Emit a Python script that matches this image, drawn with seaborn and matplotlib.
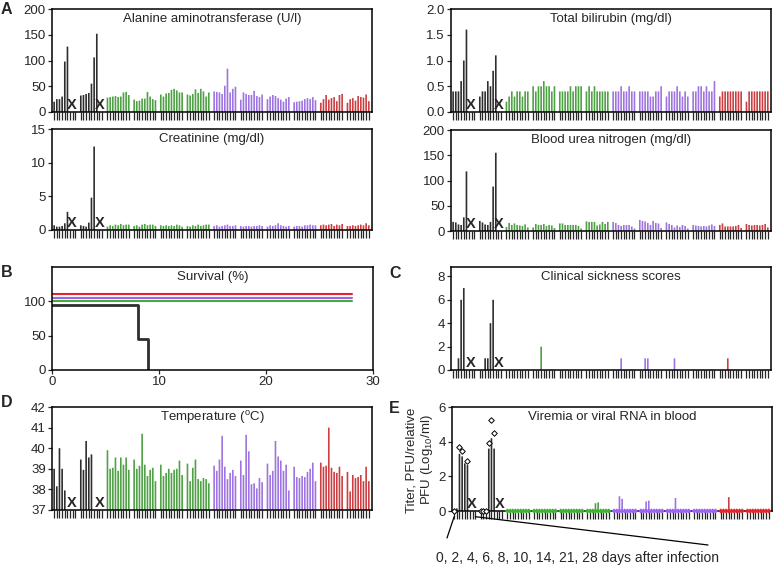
import matplotlib
matplotlib.use('Agg')
import matplotlib.pyplot as plt
import matplotlib.transforms as mtransforms
import numpy as np
import pandas as pd
import seaborn as sns

W, H = 778, 566
FS = 9.5

# animals: 2 black, 4 green, 4 purple, 2 red; 9 sampling days each
GROUPS = ['Black'] * 2 + ['Green'] * 4 + ['Purple'] * 4 + ['Red'] * 2
PALETTE = {'Black': '#2e2e2e', 'Green': '#42b035', 'Purple': '#9c62f2', 'Red': '#e3262b'}
N_DAYS = 9
X_SLOTS = [6.7, 17.2]

alt = [
    [20, 25, 25, 30, 98, 127],
    [32, 33, 35, 37, 55, 106, 152],
    [28, 29, 30, 31, 29, 30, 38, 39, 33],
    [24, 21, 22, 26, 26, 39, 30, 25, 23],
    [34, 30, 36, 37, 43, 45, 42, 38, 38],
    [34, 32, 35, 44, 37, 45, 40, 30, 38],
    [40, 39, 38, 35, 51, 84, 38, 45, 49],
    [24, 38, 35, 33, 33, 41, 31, 29, 34],
    [25, 30, 33, 31, 27, 24, 20, 26, 29],
    [19, 20, 21, 22, 25, 27, 25, 29, 23],
    [18, 25, 33, 24, 27, 29, 21, 33, 35],
    [18, 25, 27, 22, 31, 29, 28, 34, 21],
]
creatinine = [
    [0.7, 0.5, 0.5, 0.6, 1.0, 2.7],
    [0.7, 0.6, 0.5, 1.1, 4.8, 12.4],
    [0.5, 0.7, 0.6, 0.8, 0.7, 0.9, 0.7, 0.8, 0.8],
    [0.6, 0.7, 0.5, 0.8, 0.9, 0.7, 0.8, 0.8, 0.6],
    [0.7, 0.6, 0.7, 0.6, 0.7, 0.6, 0.8, 0.7, 0.5],
    [0.6, 0.5, 0.7, 0.6, 0.8, 0.6, 0.7, 0.8, 0.8],
    [0.6, 0.7, 0.5, 0.6, 0.7, 0.8, 0.6, 0.6, 0.7],
    [0.6, 0.5, 0.6, 0.6, 0.5, 0.6, 0.6, 0.7, 0.6],
    [0.5, 0.7, 0.6, 0.7, 1.0, 0.7, 0.6, 0.5, 0.6],
    [0.5, 0.6, 0.6, 0.5, 0.7, 0.7, 0.8, 0.7, 0.7],
    [0.7, 0.8, 0.7, 0.8, 0.9, 0.6, 0.8, 0.7, 0.9],
    [0.6, 0.6, 0.7, 0.6, 0.7, 0.8, 0.7, 1.0, 0.7],
]
bilirubin = [
    [0.4, 0.4, 0.4, 0.6, 1.0, 1.6],
    [0.3, 0.4, 0.4, 0.6, 0.5, 0.8, 1.1],
    [0.2, 0.3, 0.4, 0.3, 0.4, 0.4, 0.3, 0.4, 0.4],
    [0.5, 0.4, 0.5, 0.5, 0.6, 0.5, 0.5, 0.4, 0.5],
    [0.4, 0.4, 0.4, 0.4, 0.5, 0.4, 0.5, 0.5, 0.5],
    [0.4, 0.5, 0.4, 0.5, 0.4, 0.4, 0.4, 0.4, 0.4],
    [0.4, 0.4, 0.4, 0.5, 0.4, 0.4, 0.5, 0.4, 0.4],
    [0.4, 0.4, 0.4, 0.4, 0.3, 0.3, 0.4, 0.4, 0.5],
    [0.3, 0.4, 0.4, 0.4, 0.5, 0.4, 0.3, 0.4, 0.3],
    [0.4, 0.4, 0.5, 0.5, 0.4, 0.5, 0.4, 0.4, 0.6],
    [0.3, 0.4, 0.4, 0.4, 0.4, 0.4, 0.4, 0.4, 0.4],
    [0.2, 0.4, 0.4, 0.4, 0.4, 0.4, 0.4, 0.4, 0.4],
]
bun = [
    [18, 17, 13, 12, 27, 118],
    [20, 17, 13, 12, 18, 88, 155],
    [8, 16, 12, 15, 12, 11, 10, 13, 7],
    [7, 14, 12, 12, 14, 10, 12, 11, 6],
    [15, 15, 12, 12, 12, 12, 12, 10, 5],
    [19, 18, 18, 18, 11, 13, 18, 14, 18],
    [18, 16, 12, 10, 12, 12, 12, 9, 5],
    [22, 20, 19, 16, 12, 20, 16, 15, 6],
    [17, 14, 12, 7, 11, 8, 12, 10, 5],
    [12, 11, 10, 9, 10, 9, 11, 13, 10],
    [12, 15, 9, 9, 9, 9, 10, 12, 6],
    [14, 12, 11, 12, 12, 11, 12, 14, 7],
]
sickness = [
    [0, 0, 1, 6, 7, 0],
    [0, 0, 1, 1, 4, 6],
    [0, 0, 0, 0, 0, 0, 0, 0, 0],
    [0, 0, 0, 2, 0, 0, 0, 0, 0],
    [0, 0, 0, 0, 0, 0, 0, 0, 0],
    [0, 0, 0, 0, 0, 0, 0, 0, 0],
    [0, 0, 0, 1, 0, 0, 0, 0, 0],
    [0, 0, 1, 1, 0, 0, 0, 0, 0],
    [0, 0, 0, 1, 0, 0, 0, 0, 0],
    [0, 0, 0, 0, 0, 0, 0, 0, 0],
    [0, 0, 0, 1, 0, 0, 0, 0, 0],
    [0, 0, 0, 0, 0, 0, 0, 0, 0],
]
temperature = [
    [39.0, 38.15, 40.0, 39.0, 37.95],
    [39.45, 38.95, 40.35, 39.55, 39.7],
    [39.9, 39.0, 39.05, 39.55, 38.9, 39.55, 39.2, 39.55, 38.95],
    [39.45, 39.0, 39.15, 40.7, 39.2, 38.65, 38.95, 39.05, 38.4],
    [39.2, 38.65, 38.8, 39.0, 38.8, 38.95, 39.0, 39.4, 38.7],
    [39.25, 38.4, 39.05, 39.45, 38.5, 38.4, 38.55, 38.5, 38.3],
    [39.15, 38.9, 39.45, 40.6, 39.1, 38.5, 38.8, 38.95, 38.65],
    [39.4, 38.7, 40.65, 39.85, 38.25, 38.3, 38.05, 38.55, 38.35],
    [39.25, 38.7, 38.9, 40.35, 39.6, 39.4, 38.9, 39.2, 37.95],
    [39.1, 38.6, 38.55, 38.65, 38.6, 38.85, 39.0, 39.3, 38.4],
    [39.3, 39.1, 39.15, 41.0, 39.05, 38.85, 38.8, 39.1, 38.65],
    [38.85, 37.9, 38.7, 38.55, 38.6, 38.7, 38.4, 39.1, 38.4],
]
viremia = [
    [0.05, 0.15, 3.3, 3.15, 2.75, 2.65],
    [0.0, 0.0, 0.0, 3.6, 4.2, 3.6],
    [0, 0, 0, 0, 0, 0, 0, 0, 0],
    [0, 0, 0, 0, 0, 0, 0, 0, 0],
    [0, 0, 0, 0, 0, 0, 0, 0, 0],
    [0, 0, 0, 0.45, 0.5, 0, 0, 0, 0],
    [0, 0, 0.85, 0.7, 0, 0, 0, 0, 0],
    [0, 0, 0.55, 0.6, 0, 0, 0, 0, 0],
    [0, 0, 0, 0.75, 0, 0, 0, 0, 0],
    [0, 0, 0, 0, 0, 0, 0, 0, 0],
    [0, 0, 0, 0.8, 0, 0, 0, 0, 0],
    [0, 0, 0, 0, 0, 0, 0, 0, 0],
]
# individual titers shown as open diamonds (black animals)
viremia_points = [
    [0.0, np.nan, 3.7, 3.45, np.nan, 2.9],
    [0.0, 0.0, 0.0, 3.95, 5.25, 4.5],
]

surv_days = {'Black': [0, 8, 9], 'Green': [0, 28], 'Purple': [0, 28], 'Red': [0, 28]}
surv_pct = {'Black': [95, 45, 0], 'Green': [100, 100], 'Purple': [105, 105], 'Red': [110, 110]}

TICK_POS = [i * 10 + j for i in range(len(GROUPS)) for j in range(N_DAYS)]


def build_frame(values):
    rows = []
    for i, (group, vals) in enumerate(zip(GROUPS, values)):
        for j, v in enumerate(vals):
            rows.append({'pos': i * 10 + j, 'value': v, 'group': group})
    return pd.DataFrame(rows)


def add_axes(fig, left, top, right, bottom):
    return fig.add_axes([left / W, 1 - bottom / H, (right - left) / W, (bottom - top) / H])


def style_axis(ax, title, ylim, yticks, fmt='{:g}'):
    ax.set_ylim(*ylim)
    ax.set_yticks(yticks)
    ax.set_yticklabels([fmt.format(t) for t in yticks])
    ax.set_xlabel('')
    ax.set_ylabel('')
    ax.tick_params(axis='y', length=3, width=0.9, direction='out', labelsize=FS, pad=1.5)
    ax.text(0.5, 0.9, title, transform=ax.transAxes, ha='center', va='center', fontsize=FS)
    for s in ax.spines.values():
        s.set_visible(True)
        s.set_linewidth(1.1)
        s.set_color('black')


def bar_panel(ax, values, title, ylim, yticks, fmt='{:g}'):
    df = build_frame(values)
    sns.barplot(data=df, x='pos', y='value', hue='group', palette=PALETTE,
                native_scale=True, dodge=False, errorbar=None, width=0.62,
                linewidth=0, legend=False, ax=ax)
    # no pixel snapping so the thin bars keep an even width
    for p in ax.patches:
        p.set_snap(False)
    ax.set_xlim(-0.8, 119.2)
    ax.set_xticks(TICK_POS)
    ax.set_xticklabels([])
    ax.tick_params(axis='x', length=6, width=0.9, direction='out')
    style_axis(ax, title, ylim, yticks, fmt)
    trans = mtransforms.blended_transform_factory(ax.transData, ax.transAxes)
    for xs in X_SLOTS:
        ax.text(xs, 0.0, 'X', transform=trans, ha='center', va='bottom',
                fontsize=10.5, fontweight='bold')


sns.set_style('ticks')
plt.rcParams['font.family'] = ['Liberation Sans', 'DejaVu Sans']
plt.rcParams['mathtext.fontset'] = 'custom'
plt.rcParams['mathtext.rm'] = 'Liberation Sans'
plt.rcParams['mathtext.it'] = 'Liberation Sans:italic'

fig = plt.figure(figsize=(W / 100, H / 100), dpi=100)

ax_alt = add_axes(fig, 52, 9, 372, 112)
bar_panel(ax_alt, alt, 'Alanine aminotransferase (U/l)', (0, 200), [0, 50, 100, 150, 200])

ax_cre = add_axes(fig, 52, 129, 372, 230)
bar_panel(ax_cre, creatinine, 'Creatinine (mg/dl)', (0, 15), [0, 5, 10, 15])

ax_bil = add_axes(fig, 451, 9, 771, 112)
bar_panel(ax_bil, bilirubin, 'Total bilirubin (mg/dl)', (0, 2), [0, 0.5, 1.0, 1.5, 2.0], '{:.1f}')

ax_bun = add_axes(fig, 451, 130, 771, 231)
bar_panel(ax_bun, bun, 'Blood urea nitrogen (mg/dl)', (0, 200), [0, 50, 100, 150, 200])

# survival
ax_sur = add_axes(fig, 52, 267, 373, 370)
surv = pd.DataFrame([
    {'day': d, 'pct': p, 'group': g}
    for g in ['Green', 'Purple', 'Red', 'Black']
    for d, p in zip(surv_days[g], surv_pct[g])
])
for g in ['Green', 'Purple', 'Red', 'Black']:
    sns.lineplot(data=surv[surv['group'] == g], x='day', y='pct', color=PALETTE[g],
                 estimator=None, drawstyle='steps-post',
                 linewidth=2.0 if g == 'Black' else 1.5, ax=ax_sur)
ax_sur.set_xlim(0, 30)
ax_sur.set_xticks([0, 10, 20, 30])
ax_sur.tick_params(axis='x', length=3, width=0.9, direction='out', labelsize=FS, pad=1.5)
style_axis(ax_sur, 'Survival (%)', (0, 150), [0, 50, 100])

ax_cli = add_axes(fig, 451, 267, 771, 370)
bar_panel(ax_cli, sickness, 'Clinical sickness scores', (0, 8.8), [0, 2, 4, 6, 8])

ax_tmp = add_axes(fig, 52, 407, 372, 510)
bar_panel(ax_tmp, temperature, r'Temperature ($^{\mathrm{o}}$C)', (37, 42), [37, 38, 39, 40, 41, 42])

ax_vir = add_axes(fig, 452, 407, 772, 511)
bar_panel(ax_vir, viremia, 'Viremia or viral RNA in blood', (0, 6), [0, 2, 4, 6])
vir = build_frame(viremia)
col = vir[vir['group'] != 'Black'].assign(base=0.0)
sns.scatterplot(data=col, x='pos', y='base', hue='group', palette=PALETTE, marker='D',
                s=7, linewidth=0, legend=False, clip_on=False, zorder=3, ax=ax_vir)
pts = build_frame(viremia_points).dropna()
sns.scatterplot(data=pts, x='pos', y='value', marker='D', s=8, facecolor='white',
                edgecolor='black', linewidth=0.7, legend=False, clip_on=False, zorder=4, ax=ax_vir)
ax_vir.set_xlabel('')
ax_vir.set_ylabel('')
ax_vir.set_xlim(-0.8, 119.2)

fig.text(420 / W, 1 - 460 / H, 'Titer, PFU/relative\nPFU (Log$_{10}$/ml)', rotation=90,
         ha='center', va='center', fontsize=FS, linespacing=1.1)

# day-axis annotation under panel E
arrow = dict(arrowstyle='-', lw=0.9, color='black', shrinkA=0, shrinkB=0)
ax_vir.annotate('', xy=(0, -0.055), xycoords=('data', 'axes fraction'),
                xytext=(447 / W, 1 - 538 / H), textcoords='figure fraction',
                arrowprops=arrow, annotation_clip=False)
ax_vir.annotate('', xy=(N_DAYS - 1, -0.055), xycoords=('data', 'axes fraction'),
                xytext=(708 / W, 1 - 545 / H), textcoords='figure fraction',
                arrowprops=arrow, annotation_clip=False)
fig.text(578 / W, 1 - 558 / H, '0, 2, 4, 6, 8, 10, 14, 21, 28 days after infection',
         ha='center', va='center', fontsize=FS + 0.5)

for letter, (px, py) in {'A': (1, 2), 'B': (1, 265), 'C': (389, 266),
                         'D': (1, 395), 'E': (389, 401)}.items():
    fig.text(px / W, 1 - py / H, letter, ha='left', va='top', fontsize=11.5, fontweight='bold')

fig.savefig('out.png', dpi=100)
